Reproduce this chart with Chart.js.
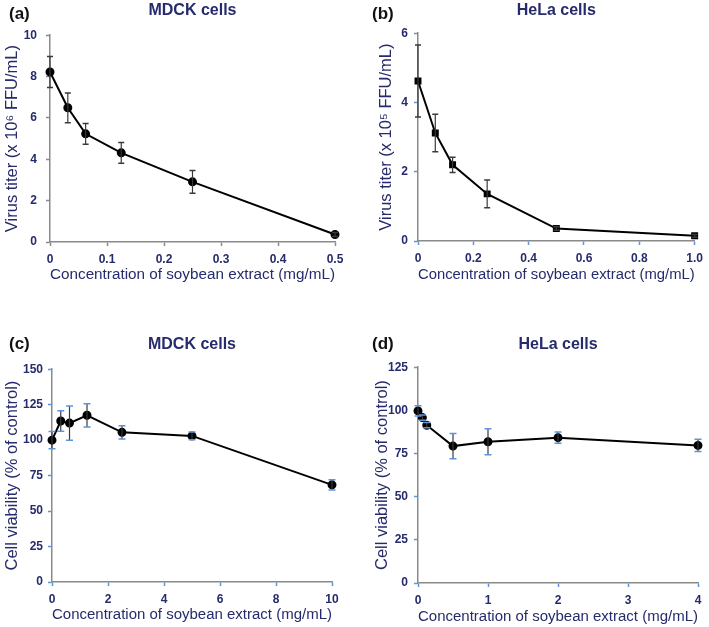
<!DOCTYPE html>
<html>
<head>
<meta charset="utf-8">
<script src="https://cdn.jsdelivr.net/npm/chart.js@4.4.1/dist/chart.umd.min.js"></script>
<style>
  body { margin: 0; background: #fff; width: 709px; height: 627px; position: relative; overflow: hidden;
         font-family: 'Liberation Sans', Arial, sans-serif; }
  canvas { position: absolute; }
  .tag { position: absolute; font-weight: bold; font-size: 17px; line-height: 17px; color: #111; }
</style>
</head>
<body>
<canvas id="chartA" width="355" height="300" style="left:0;top:0"></canvas>
<canvas id="chartB" width="354" height="300" style="left:355px;top:0"></canvas>
<canvas id="chartC" width="355" height="317" style="left:0;top:310px"></canvas>
<canvas id="chartD" width="354" height="317" style="left:355px;top:310px"></canvas>
<div class="tag" style="left:9px;top:5px">(a)</div>
<div class="tag" style="left:372px;top:5px">(b)</div>
<div class="tag" style="left:9px;top:335px">(c)</div>
<div class="tag" style="left:372px;top:335px">(d)</div>
<script>
// (a) virus titer, MDCK
const concA = [0, 0.03125, 0.0625, 0.125, 0.25, 0.5];
const titerA = [8.22, 6.49, 5.23, 4.31, 2.91, 0.36];
const errA = [0.75, 0.72, 0.5, 0.5, 0.55, 0.1];
const xTicksA = [0, 0.1, 0.2, 0.3, 0.4, 0.5];
const xLabelsA = ['0', '0.1', '0.2', '0.3', '0.4', '0.5'];
const yTicksA = [0, 2, 4, 6, 8, 10];

// (b) virus titer, HeLa
const concB = [0, 0.0625, 0.125, 0.25, 0.5, 1.0];
const titerB = [4.62, 3.12, 2.2, 1.36, 0.36, 0.15];
const errB = [1.04, 0.54, 0.22, 0.4, 0.05, 0.04];
const xTicksB = [0, 0.2, 0.4, 0.6, 0.8, 1.0];
const xLabelsB = ['0', '0.2', '0.4', '0.6', '0.8', '1.0'];
const yTicksB = [0, 2, 4, 6];

// (c) cell viability, MDCK
const concC = [0, 0.3125, 0.625, 1.25, 2.5, 5, 10];
const viabC = [100, 113.5, 112, 117.5, 105.5, 103, 68.5];
const errC = [6, 7.3, 12, 8.2, 4.7, 2.7, 3.6];
const xTicksC = [0, 2, 4, 6, 8, 10];
const xLabelsC = ['0', '2', '4', '6', '8', '10'];
const yTicksC = [0, 25, 50, 75, 100, 125, 150];

// (d) cell viability, HeLa
const concD = [0, 0.0625, 0.125, 0.5, 1, 2, 4];
const viabD = [99.7, 95.8, 91.4, 79.3, 81.8, 84.2, 79.7];
const errD = [3, 1.5, 1.5, 7.3, 7.5, 3.2, 3.6];
const xTicksD = [0, 1, 2, 3, 4];
const xLabelsD = ['0', '1', '2', '3', '4'];
const yTicksD = [0, 25, 50, 75, 100, 125];

const navy = '#262b6b';
const fontFam = "'Liberation Sans', Arial, sans-serif";
const xTitle = 'Concentration of soybean extract (mg/mL)';

// error bars drawn through the chart's own scales
const errorBars = {
    id: 'errorBars',
    afterDatasetsDraw(chart) {
        const o = chart.options.plugins.errorBars;
        const xs = chart.scales.x, ys = chart.scales.y;
        const ds = chart.data.datasets[0];
        const ctx = chart.ctx;
        ctx.save();
        ds.data.forEach((p, i) => {
            const e = ds.errors[i];
            const px = xs.getPixelForValue(p.x);
            const top = ys.getPixelForValue(p.y + e);
            const bot = ys.getPixelForValue(p.y - e);
            ctx.strokeStyle = '#3a3a3a';
            ctx.lineWidth = 1.2;
            ctx.beginPath();
            ctx.moveTo(px, top);
            ctx.lineTo(px, bot);
            ctx.stroke();
            ctx.strokeStyle = o.capColor;
            ctx.lineWidth = 1.5;
            ctx.beginPath();
            ctx.moveTo(px - o.cap, top); ctx.lineTo(px + o.cap, top);
            ctx.moveTo(px - o.cap, bot); ctx.lineTo(px + o.cap, bot);
            ctx.stroke();
        });
        ctx.restore();
    }
};

function makePanel(id, cfg) {
    const points = cfg.xs.map((x, i) => ({ x: x, y: cfg.ys[i] }));
    return new Chart(document.getElementById(id), {
        type: 'scatter',
        data: {
            datasets: [{
                data: points,
                errors: cfg.err,
                showLine: true,
                borderColor: '#000',
                borderWidth: 2,
                pointBackgroundColor: '#000',
                pointBorderColor: '#000',
                pointRadius: 3.5,
                pointStyle: cfg.marker,
                clip: false
            }]
        },
        options: {
            responsive: false,
            animation: false,
            layout: { padding: cfg.pad },
            plugins: {
                legend: { display: false },
                tooltip: { enabled: false },
                title: {
                    display: true,
                    text: cfg.title,
                    fullSize: false,
                    color: navy,
                    font: { family: fontFam, size: 16, weight: 'bold' },
                    padding: cfg.titlePad
                },
                errorBars: { cap: cfg.cap, capColor: cfg.capColor }
            },
            scales: {
                x: {
                    type: 'linear',
                    min: cfg.xTicks[0],
                    max: cfg.xTicks[cfg.xTicks.length - 1],
                    afterBuildTicks: s => { s.ticks = cfg.xTicks.map(v => ({ value: v })); },
                    afterFit: s => { s.height = cfg.xh; },
                    border: { color: '#8a8a8a', width: 1.5 },
                    grid: { drawOnChartArea: false, drawTicks: true, tickLength: 4, tickColor: cfg.tickColor, tickWidth: 1.5 },
                    ticks: {
                        color: navy, padding: 6,
                        font: { family: fontFam, size: 12, weight: 'bold' },
                        maxRotation: 0,
                        callback: (v, i) => cfg.xLabels[i]
                    },
                    title: {
                        display: true, text: xTitle, color: navy,
                        font: { family: fontFam, size: 15.5 },
                        padding: { top: 0, bottom: 0 }
                    }
                },
                y: {
                    min: cfg.yTicks[0],
                    max: cfg.yTicks[cfg.yTicks.length - 1],
                    afterBuildTicks: s => { s.ticks = cfg.yTicks.map(v => ({ value: v })); },
                    afterFit: s => { s.width = cfg.yw; },
                    border: { color: '#8a8a8a', width: 1.5 },
                    grid: { drawOnChartArea: false, drawTicks: true, tickLength: 4, tickColor: cfg.tickColor, tickWidth: 1.5 },
                    ticks: {
                        color: navy, padding: cfg.yPad,
                        font: { family: fontFam, size: 12, weight: 'bold' }
                    },
                    title: {
                        display: true, text: cfg.yTitle, color: navy,
                        font: { family: fontFam, size: 16.5 },
                        padding: { top: 3, bottom: 0 }
                    }
                }
            }
        },
        plugins: [errorBars]
    });
}

window.onload = function() {
    makePanel('chartA', {
        xs: concA, ys: titerA, err: errA, marker: 'circle',
        xTicks: xTicksA, xLabels: xLabelsA, yTicks: yTicksA,
        title: 'MDCK cells', yTitle: 'Virus titer (x 10\u2076 FFU/mL)',
        pad: { left: 0, right: 20, top: 0, bottom: 16 },
        titlePad: { top: 1, bottom: 15 },
        yw: 50, xh: 42, yPad: 9,
        tickColor: '#8a8a8a', cap: 3, capColor: '#3a3a3a'
    });
    makePanel('chartB', {
        xs: concB, ys: titerB, err: errB, marker: 'rect',
        xTicks: xTicksB, xLabels: xLabelsB, yTicks: yTicksB,
        title: 'HeLa cells', yTitle: 'Virus titer (x 10\u2075 FFU/mL)',
        pad: { left: 19, right: 13, top: 0, bottom: 16 },
        titlePad: { top: 1, bottom: 13 },
        yw: 44, xh: 43, yPad: 6,
        tickColor: '#5d95dc', cap: 3, capColor: '#3a3a3a'
    });
    makePanel('chartC', {
        xs: concC, ys: viabC, err: errC, marker: 'circle',
        xTicks: xTicksC, xLabels: xLabelsC, yTicks: yTicksC,
        title: 'MDCK cells', yTitle: 'Cell viability (% of control)',
        pad: { left: 0, right: 23, top: 0, bottom: 3 },
        titlePad: { top: 25, bottom: 15 },
        yw: 52, xh: 42, yPad: 5,
        tickColor: '#5d95dc', cap: 3.5, capColor: '#5d95dc'
    });
    makePanel('chartD', {
        xs: concD, ys: viabD, err: errD, marker: 'circle',
        xTicks: xTicksD, xLabels: xLabelsD, yTicks: yTicksD,
        title: 'HeLa cells', yTitle: 'Cell viability (% of control)',
        pad: { left: 15, right: 11, top: 0, bottom: 1 },
        titlePad: { top: 25, bottom: 13 },
        yw: 48, xh: 43, yPad: 6,
        tickColor: '#5d95dc', cap: 3.5, capColor: '#5d95dc'
    });
};
</script>
</body>
</html>
